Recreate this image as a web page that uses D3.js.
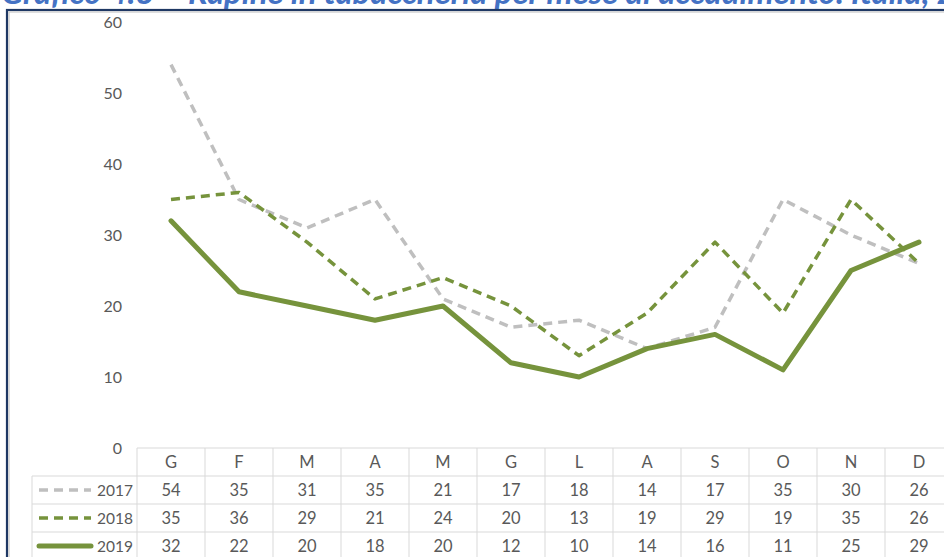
<!DOCTYPE html>
<html><head><meta charset="utf-8">
<script src="https://cdn.jsdelivr.net/npm/d3@7"></script>
<style>html,body{margin:0;padding:0;background:#fff;overflow:hidden}</style>
</head><body>
<svg id="c" width="944" height="557"></svg>
<script>
const months = ["G","F","M","A","M","G","L","A","S","O","N","D"];
const years = ["2017","2018","2019"];
const v2017 = [54,35,31,35,21,17,18,14,17,35,30,26];
const v2018 = [35,36,29,21,24,20,13,19,29,19,35,26];
const v2019 = [32,22,20,18,20,12,10,14,16,11,25,29];
const yTicks = [0,10,20,30,40,50,60];
const titleText = "Grafico 4.3 – Rapine in tabaccheria per mese di accadimento. Italia, 2017-2019";

const series = [
  {name:"2017", values:v2017, color:"#BFBFBF", width:3.5, dash:"9,6"},
  {name:"2018", values:v2018, color:"#76933C", width:3.5, dash:"9,6"},
  {name:"2019", values:v2019, color:"#76933C", width:5, dash:null}
];

const svg = d3.select("#c");
const font = "Lato, 'Open Sans', sans-serif";
const textCol = "#595959";

// title (cut at top, as in the reference)
const t = svg.append("text").attr("x",1).attr("y",4)
  .attr("font-family",font).attr("font-weight","bold").attr("font-style","italic")
  .attr("fill","#4472C4").attr("font-size",20).text("Grafico 4.3 – Rapine in tabaccheria per mese di accadimento. Italia, ");
const w = t.node().getComputedTextLength();
const fs = 20*929/w;
t.attr("font-size",fs).text(titleText);

// frame
svg.append("rect").attr("x",7).attr("y",10).attr("width",1000).attr("height",600)
  .attr("fill","none").attr("stroke","#1F3864").attr("stroke-width",2.2);
svg.append("rect").attr("x",9).attr("y",12).attr("width",1000).attr("height",600)
  .attr("fill","none").attr("stroke","#C8C8C8").attr("stroke-width",1.2);

const x = d3.scaleBand().domain(d3.range(months.length)).range([137,953]);
const y = d3.scaleLinear().domain([0,60]).range([448,22]);

// y axis labels
const yAxis = d3.axisLeft(y).tickValues(yTicks).tickSize(0).tickPadding(0);
const ga = svg.append("g").attr("transform","translate(122,0)").call(yAxis);
ga.select(".domain").remove();
ga.selectAll("text").attr("font-family",font).attr("font-size",16).attr("fill",textCol);

// lines
const line = d3.line().x((d,i)=>x(i)+x.bandwidth()/2).y(d=>y(d)).curve(d3.curveLinear);
series.forEach(s=>{
  svg.append("path").datum(s.values).attr("d",line)
    .attr("fill","none").attr("stroke",s.color).attr("stroke-width",s.width)
    .attr("stroke-dasharray",s.dash).attr("stroke-linejoin","round")
    .attr("stroke-linecap", s.dash ? "butt" : "round");
});

// data table
const rowH = 28;
const top0 = 448;
const grid = "#D9D9D9";
const fsT = 16.5;
const tb = svg.append("g");
tb.append("line").attr("x1",137).attr("x2",953).attr("y1",top0).attr("y2",top0).attr("stroke",grid);
for(let r=1;r<=4;r++){
  tb.append("line").attr("x1",32).attr("x2",953).attr("y1",top0+r*rowH).attr("y2",top0+r*rowH).attr("stroke",grid);
}
x.domain().forEach(i=>{
  tb.append("line").attr("x1",x(i)).attr("x2",x(i)).attr("y1",top0).attr("y2",top0+4*rowH+5).attr("stroke",grid);
});
tb.append("line").attr("x1",32).attr("x2",32).attr("y1",top0+rowH).attr("y2",top0+4*rowH+5).attr("stroke",grid);

tb.selectAll("text.m").data(months).join("text").attr("class","m")
  .attr("x",(d,i)=>x(i)+x.bandwidth()/2).attr("y",top0+rowH/2).attr("dy","0.36em")
  .attr("text-anchor","middle").attr("font-family",font).attr("font-size",fsT).attr("fill",textCol).text(d=>d);

series.forEach((s,r)=>{
  const cy = top0+(r+1)*rowH+rowH/2;
  tb.append("line").attr("x1",39).attr("x2",91).attr("y1",cy).attr("y2",cy)
    .attr("stroke",s.color).attr("stroke-width",s.width)
    .attr("stroke-dasharray",s.dash).attr("stroke-linecap", s.dash?"butt":"round");
  tb.append("text").attr("x",133).attr("y",cy).attr("dy","0.36em").attr("text-anchor","end")
    .attr("font-family",font).attr("font-size",15.5).attr("fill",textCol).text(s.name);
  tb.selectAll("text.v"+r).data(s.values).join("text").attr("class","v"+r)
    .attr("x",(d,i)=>x(i)+x.bandwidth()/2).attr("y",cy).attr("dy","0.36em")
    .attr("text-anchor","middle").attr("font-family",font).attr("font-size",fsT).attr("fill",textCol).text(d=>d);
});
</script>
</body></html>
